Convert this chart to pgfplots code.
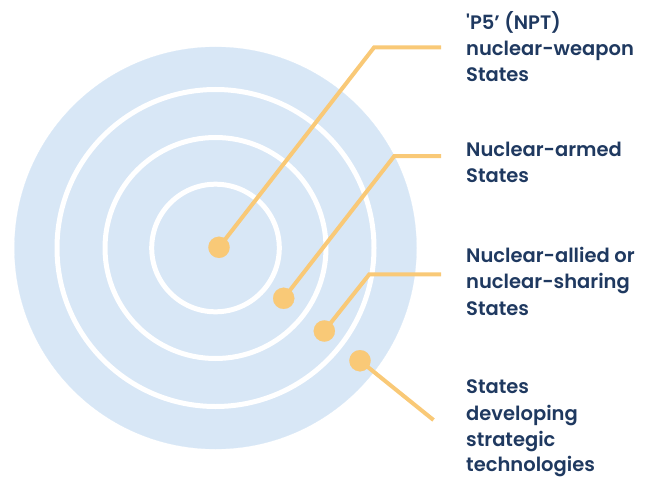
\documentclass[border=0pt]{standalone}
\usepackage{fontspec}
\usepackage{pgfplots}
\pgfplotsset{compat=1.18}
\setmainfont{Poppins}[UprightFont=* SemiBold]
\definecolor{bgblue}{RGB}{216,231,246}
\definecolor{orng}{RGB}{249,201,119}
\definecolor{navy}{RGB}{31,57,96}
\begin{document}
\begin{tikzpicture}
\begin{axis}[name=ax, scale only axis, width=659bp, height=477bp,
  xmin=0, xmax=659, ymin=0, ymax=477, y dir=reverse, hide axis, clip=false,
  clip marker paths=true]
% background disc
\addplot[only marks, mark=*, mark size=201bp, mark options={fill=bgblue, draw=bgblue, line width=0.2bp}] coordinates {(215.5,248)};
% white rings
\addplot[only marks, mark=o, mark size=158.5bp, mark options={draw=white, line width=5bp}] coordinates {(215.5,248)};
\addplot[only marks, mark=o, mark size=110.5bp, mark options={draw=white, line width=5bp}] coordinates {(215.5,248)};
\addplot[only marks, mark=o, mark size=63.8bp, mark options={draw=white, line width=5bp}] coordinates {(215.5,248)};
% leader lines
\addplot[orng, line width=4bp, mark=none] coordinates {(219,247.3) (374,47.5) (441,47.5)};
\addplot[orng, line width=4bp, mark=none] coordinates {(283.7,298.3) (394.3,156) (441,156)};
\addplot[orng, line width=4bp, mark=none] coordinates {(324.3,331) (369.3,274.3) (441,274.3)};
\addplot[orng, line width=4bp, mark=none] coordinates {(360,360.7) (433.5,420)};
% dots
\addplot[only marks, mark=*, mark size=10.6bp, mark options={fill=orng, draw=orng, line width=0.2bp}] coordinates {(219,247.3) (283.7,298.3) (324.3,331) (360,360.7)};
% labels
\begin{scope}[every node/.style={anchor=base west, inner sep=0pt, text=navy, font=\fontsize{19.5bp}{26bp}\selectfont}]
\node at (axis cs:466,30) {\textquotesingle P5’ (NPT)};
\node at (axis cs:466,56) {nuclear-weapon};
\node at (axis cs:466,82) {States};
\node at (axis cs:466,156.7) {Nuclear-armed};
\node at (axis cs:466,182.7) {States};
\node at (axis cs:466,262.3) {Nuclear-allied or};
\node at (axis cs:466,288.3) {nuclear-sharing};
\node at (axis cs:466,315) {States};
\node at (axis cs:466,393.3) {States};
\node at (axis cs:466,420) {developing};
\node at (axis cs:466,446) {strategic};
\node at (axis cs:466,471.7) {technologies};
\end{scope}
\end{axis}
\pgfresetboundingbox
\path (ax.south west) rectangle (ax.north east);
\end{tikzpicture}
\end{document}
